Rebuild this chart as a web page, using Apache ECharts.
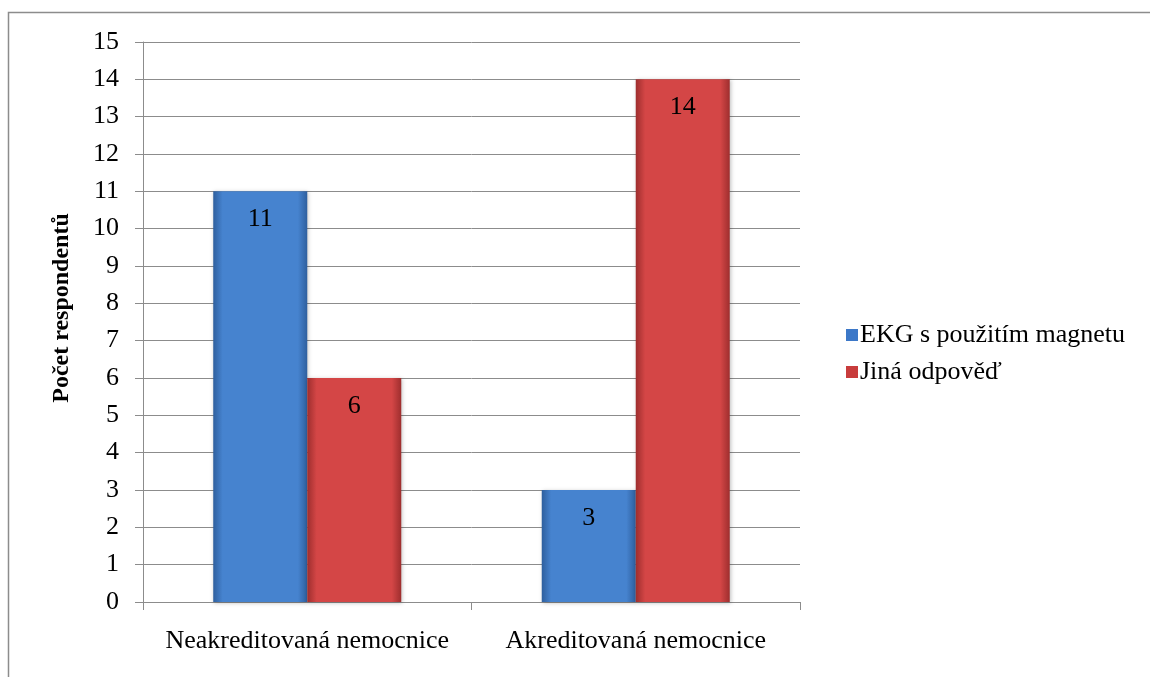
<!DOCTYPE html>
<html><head><meta charset="utf-8">
<script src="https://cdn.jsdelivr.net/npm/echarts@6/dist/echarts.min.js"></script>
<style>html,body{margin:0;padding:0;background:#fff}#c{width:1150px;height:677px}</style>
</head><body><div id="c"></div>
<script>
const categories = ['Neakreditovaná nemocnice', 'Akreditovaná nemocnice'];
const ekgValues = [11, 3];
const otherValues = [6, 14];
const seriesNames = ['EKG s použitím magnetu', 'Jiná odpověď'];
const yAxisName = 'Počet respondentů';

const font = '"Liberation Serif", "Times New Roman", serif';
function grad(dark, light) {
  return new echarts.graphic.LinearGradient(0, 0, 1, 0, [
    {offset: 0, color: dark}, {offset: 0.1, color: light}, {offset: 0.9, color: light}, {offset: 1, color: dark}
  ]);
}
const chart = echarts.init(document.getElementById('c'));
chart.setOption({
  animation: false,
  backgroundColor: '#fff',
  graphic: [{type: 'rect', shape: {x: 8.5, y: 12.5, width: 1200, height: 700}, style: {fill: 'none', stroke: '#8c8c8c', lineWidth: 1.5}, z: -1}],
  grid: {left: 143, right: 350, top: 42, bottom: 75, containLabel: false},
  legend: {
    orient: 'vertical', left: 841, top: 317, itemGap: 11, itemWidth: 12, itemHeight: 12,
    icon: 'rect',
    textStyle: {fontFamily: font, fontSize: 26, color: '#000', padding: [0, 0, 0, -3]},
    data: [{name: seriesNames[0], itemStyle: {color: '#3c78c8'}}, {name: seriesNames[1], itemStyle: {color: '#c83c3c'}}]
  },
  xAxis: {
    type: 'category', data: categories,
    axisLine: {lineStyle: {color: '#8c8c8c', width: 1}},
    axisTick: {show: true, length: 8, lineStyle: {color: '#8c8c8c'}},
    axisLabel: {fontFamily: font, fontSize: 26, color: '#000', margin: 26, interval: 0}
  },
  yAxis: {
    type: 'value', min: 0, max: 15, interval: 1,
    name: yAxisName, nameLocation: 'middle', nameGap: 69, nameRotate: 90,
    nameTextStyle: {fontFamily: font, fontSize: 24, fontWeight: 'bold', color: '#000', padding: [0, 0, 0, 28]},
    axisLine: {show: true, lineStyle: {color: '#8c8c8c', width: 1}},
    axisTick: {show: true, length: 8, lineStyle: {color: '#8c8c8c'}},
    axisLabel: {fontFamily: font, fontSize: 26, color: '#000', margin: 24},
    splitLine: {lineStyle: {color: '#8c8c8c', width: 1}}
  },
  series: [
    {name: seriesNames[0], type: 'bar', data: ekgValues, barWidth: 94, barGap: '0%',
     itemStyle: {color: grad('#2e5f9e', '#4683cf'), shadowColor: 'rgba(0,0,0,0.25)', shadowBlur: 4, shadowOffsetX: 1, shadowOffsetY: 1},
     label: {show: true, position: 'insideTop', distance: 15, fontFamily: font, fontSize: 26, color: '#000'}},
    {name: seriesNames[1], type: 'bar', data: otherValues, barWidth: 94,
     itemStyle: {color: grad('#9e2e2e', '#d44646'), shadowColor: 'rgba(0,0,0,0.25)', shadowBlur: 4, shadowOffsetX: 1, shadowOffsetY: 1},
     label: {show: true, position: 'insideTop', distance: 15, fontFamily: font, fontSize: 26, color: '#000'}}
  ]
});
</script></body></html>
